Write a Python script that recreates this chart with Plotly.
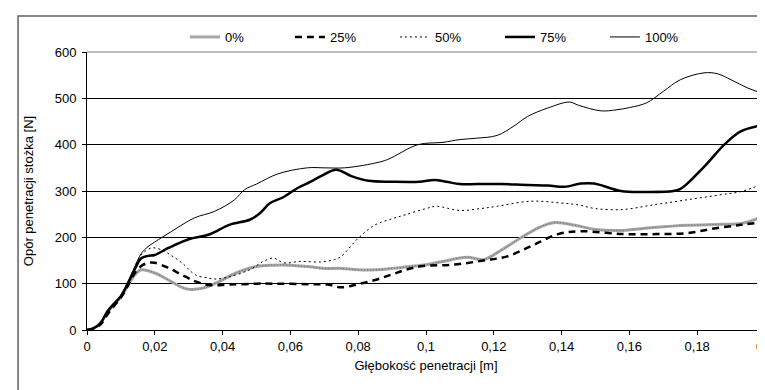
import plotly.graph_objects as go

# ---- data ----
x_0 = [0, 0.002, 0.004, 0.006, 0.008, 0.01, 0.012, 0.014, 0.016, 0.02, 0.024, 0.028, 0.03, 0.034, 0.038,
       0.044, 0.05, 0.055, 0.06, 0.065, 0.07, 0.075, 0.08, 0.085, 0.09, 0.095, 0.1, 0.105, 0.112, 0.117,
       0.121, 0.125, 0.128, 0.133, 0.138, 0.144, 0.15, 0.158, 0.167, 0.177, 0.187, 0.193, 0.197, 0.2]
y_0 = [0, 4, 15, 38, 55, 72, 95, 118, 130, 123, 108, 92, 88, 90, 101,
       123, 137, 140, 140, 137, 133, 133, 130, 130, 133, 137, 141, 148, 157, 152,
       167, 185, 199, 220, 232, 226, 217, 215, 221, 226, 228, 230, 238, 252]

x_25 = [0, 0.002, 0.004, 0.006, 0.008, 0.01, 0.012, 0.014, 0.016, 0.018, 0.02, 0.024, 0.028, 0.032, 0.036,
        0.042, 0.05, 0.055, 0.065, 0.071, 0.075, 0.08, 0.085, 0.09, 0.094, 0.099, 0.108, 0.117, 0.124,
        0.131, 0.139, 0.146, 0.158, 0.168, 0.177, 0.185, 0.193, 0.2]
y_25 = [0, 3, 12, 33, 52, 70, 95, 122, 138, 145, 145, 134, 119, 105, 97,
        98, 100, 100, 99, 98, 92, 99, 108, 120, 130, 138, 141, 150, 159,
        181, 207, 213, 207, 207, 209, 219, 227, 233]

x_50 = [0, 0.002, 0.004, 0.006, 0.008, 0.01, 0.012, 0.014, 0.016, 0.019, 0.022, 0.025, 0.028, 0.032, 0.036,
        0.038, 0.042, 0.048, 0.052, 0.055, 0.058, 0.063, 0.069, 0.073, 0.075, 0.08, 0.085, 0.09, 0.094,
        0.1, 0.103, 0.11, 0.116, 0.121, 0.131, 0.14, 0.145, 0.15, 0.158, 0.167, 0.177, 0.187, 0.193, 0.2]
y_50 = [0, 4, 14, 36, 54, 72, 100, 135, 162, 177, 173, 160, 145, 119, 112,
        110, 115, 130, 148, 155, 145, 148, 147, 152, 159, 198, 227, 240, 249,
        262, 267, 258, 262, 267, 278, 274, 270, 262, 260, 270, 281, 292, 299, 317]

x_75 = [0, 0.002, 0.004, 0.006, 0.008, 0.01, 0.012, 0.014, 0.016, 0.018, 0.02, 0.024, 0.03, 0.036, 0.042,
        0.048, 0.051, 0.054, 0.058, 0.062, 0.066, 0.069, 0.0735, 0.078, 0.083, 0.09, 0.098, 0.1025, 0.106,
        0.11, 0.115, 0.122, 0.13, 0.136, 0.1408, 0.1457, 0.1496, 0.1575, 0.165, 0.173, 0.1752, 0.182,
        0.188, 0.193, 0.2]
y_75 = [0, 4, 15, 40, 57, 73, 100, 130, 155, 160, 162, 177, 196, 206, 227,
        238, 252, 274, 287, 306, 320, 332, 346, 332, 322, 320, 320, 324, 320,
        315, 315, 315, 313, 312, 309, 316, 316, 300, 298, 300, 305, 352,
        400, 429, 443]

x_100 = [0, 0.002, 0.004, 0.006, 0.008, 0.01, 0.012, 0.014, 0.016, 0.018, 0.02, 0.025, 0.0317, 0.0376,
         0.0435, 0.0465, 0.05, 0.0563, 0.065, 0.07, 0.076, 0.0848, 0.0887, 0.0976, 0.105, 0.11, 0.115,
         0.121, 0.1259, 0.13, 0.1359, 0.1423, 0.145, 0.1516, 0.156, 0.16, 0.165, 0.17, 0.175, 0.182,
         0.186, 0.19, 0.195, 0.2]
y_100 = [0, 4, 15, 40, 57, 73, 102, 135, 165, 180, 190, 213, 242, 256,
         281, 303, 315, 337, 350, 350, 350, 360, 368, 400, 405, 411, 414,
         420, 440, 461, 479, 492, 485, 473, 475, 480, 490, 515, 540, 555,
         553, 540, 522, 509]

x_tickvals = [0, 0.02, 0.04, 0.06, 0.08, 0.1, 0.12, 0.14, 0.16, 0.18, 0.2]
x_ticktext = ["0", "0,02", "0,04", "0,06", "0,08", "0,1", "0,12", "0,14", "0,16", "0,18", "0,2"]
y_tickvals = [0, 100, 200, 300, 400, 500, 600]

FONT = "Liberation Sans, Arial, sans-serif"
FS = 13

fig = go.Figure()
fig.add_trace(go.Scatter(x=x_0, y=y_0, mode="lines", name="0%", line_shape="spline",
                         line=dict(color="#a6a6a6", width=3)))
fig.add_trace(go.Scatter(x=x_0, y=y_0, mode="lines", showlegend=False, line_shape="spline",
                         hoverinfo="skip", line=dict(color="#6e6e6e", width=1, dash="1px,2px")))
fig.add_trace(go.Scatter(x=x_25, y=y_25, mode="lines", name="25%", line_shape="spline",
                         line=dict(color="black", width=2.5, dash="7px,5px")))
fig.add_trace(go.Scatter(x=x_50, y=y_50, mode="lines", name="50%", line_shape="spline",
                         line=dict(color="black", width=1, dash="2px,3px")))
fig.add_trace(go.Scatter(x=x_75, y=y_75, mode="lines", name="75%", line_shape="spline",
                         line=dict(color="black", width=2.5)))
fig.add_trace(go.Scatter(x=x_100, y=y_100, mode="lines", name="100%", line_shape="spline",
                         line=dict(color="black", width=1)))

L, R, T, B = 79, 757.5, 44, 322
W, H = 765, 390
pw, ph = R - L, B - T

fig.update_layout(
    width=W, height=H,
    margin=dict(l=L, r=W - R, t=T, b=H - B, autoexpand=False),
    paper_bgcolor="white", plot_bgcolor="white",
    font=dict(family=FONT, size=FS, color="black"),
    showlegend=True,
    legend=dict(orientation="h", x=(177 - L) / pw, xanchor="left",
                y=(B - 29) / ph, yanchor="middle",
                font=dict(family=FONT, size=FS, color="black"),
                entrywidth=60, entrywidthmode="pixels", tracegroupgap=0,
                bgcolor="rgba(0,0,0,0)"),
    xaxis=dict(range=[0, 0.2], tickvals=x_tickvals, ticktext=x_ticktext,
               showgrid=False, zeroline=False, showline=True, linecolor="black", linewidth=1,
               ticks="outside", ticklen=4, tickcolor="black", ticklabeloverflow="allow",
               tickfont=dict(family=FONT, size=FS),
               title=dict(text="Głębokość penetracji [m]", font=dict(family=FONT, size=FS), standoff=8)),
    yaxis=dict(range=[0, 600], tickvals=y_tickvals,
               showgrid=True, gridcolor="black", gridwidth=1, zeroline=False,
               showline=True, linecolor="black", linewidth=1,
               ticks="outside", ticklen=4, tickcolor="black", ticklabelstandoff=3,
               tickfont=dict(family=FONT, size=FS),
               title=dict(text="Opór penetracji stożka [N]", font=dict(family=FONT, size=FS), standoff=18)),
    shapes=[
        dict(type="line", xref="paper", yref="paper", x0=1, x1=1, y0=0, y1=1,
             line=dict(color="#808080", width=1)),
        dict(type="line", xref="paper", yref="paper", x0=0, x1=1, y0=1, y1=1,
             line=dict(color="#808080", width=1)),
        dict(type="line", xref="paper", yref="paper", x0=1, x1=1, y0=0, y1=-4 / ph,
             line=dict(color="black", width=1)),
        dict(type="rect", xref="paper", yref="paper",
             x0=(10 - L) / pw, x1=(W + 20 - L) / pw,
             y0=(B - (H + 20)) / ph, y1=(B - 8) / ph,
             line=dict(color="#606060", width=1.5), layer="above"),
    ],
)

fig.write_html("out.html")
